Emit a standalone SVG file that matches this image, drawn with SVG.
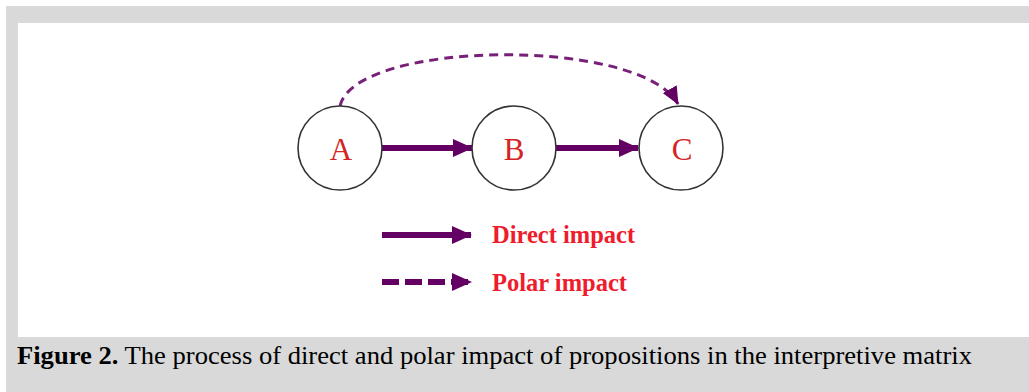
<svg xmlns="http://www.w3.org/2000/svg" width="1029" height="392" viewBox="0 0 1029 392">
  <style>
    .node circle { fill: #ffffff; stroke: #333333; stroke-width: 1.6; }
    .node text { font-family: "Liberation Serif", "Times New Roman", serif; font-size: 31px; fill: #d42424; text-anchor: middle; }
    .solid { stroke: #640064; stroke-width: 6; fill: none; }
    .dashed { stroke: #782078; stroke-width: 3; fill: none; stroke-dasharray: 9 6; }
    .legdash { stroke: #640064; stroke-width: 6; fill: none; stroke-dasharray: 17 6; }
    .leg { font-family: "Liberation Serif", "Times New Roman", serif; font-size: 24.5px; font-weight: bold; fill: #ee1c2c; }
    .cap { font-family: "Liberation Serif", "Times New Roman", serif; font-size: 25px; fill: #000000; }
  </style>
  <defs>
    <marker id="headSolid" markerUnits="userSpaceOnUse" markerWidth="20" markerHeight="18" refX="19" refY="9" orient="auto">
      <path d="M0,0 L20,9 L0,18 Z" fill="#640064"/>
    </marker>
    <marker id="headDash" markerUnits="userSpaceOnUse" markerWidth="18" markerHeight="16" refX="17" refY="8" orient="auto">
      <path d="M0,0 L18,8 L0,16 Z" fill="#640064"/>
    </marker>
  </defs>
  <rect x="0" y="0" width="1029" height="392" fill="#ffffff"/>
  <rect x="6" y="6" width="1023" height="386" fill="#d9d9d9"/>
  <rect x="18" y="23" width="1011" height="314" fill="#ffffff"/>

  <g id="connectors">
    <line class="solid" x1="382" y1="148" x2="472" y2="148" marker-end="url(#headSolid)"/>
    <line class="solid" x1="556" y1="148" x2="638" y2="148" marker-end="url(#headSolid)"/>
    <path class="dashed" d="M340,106 C355,40 640,36 678,104" marker-end="url(#headDash)"/>
  </g>

  <g id="node-A" class="node">
    <circle cx="340" cy="148" r="42"/>
    <text x="341" y="160">A</text>
  </g>
  <g id="node-B" class="node">
    <circle cx="514" cy="148" r="42"/>
    <text x="514" y="160">B</text>
  </g>
  <g id="node-C" class="node">
    <circle cx="681" cy="148" r="42"/>
    <text x="682" y="160">C</text>
  </g>

  <g id="legend">
    <line class="solid" x1="382" y1="235" x2="471" y2="235" marker-end="url(#headSolid)"/>
    <text class="leg" x="492" y="243">Direct impact</text>
    <line class="legdash" x1="382" y1="282" x2="471" y2="282" marker-end="url(#headSolid)"/>
    <text class="leg" x="492" y="291">Polar impact</text>
  </g>

  <g id="caption">
    <text class="cap" x="17" y="364" textLength="955" lengthAdjust="spacingAndGlyphs"><tspan font-weight="bold">Figure 2.</tspan> The process of direct and polar impact of propositions in the interpretive matrix</text>
  </g>
</svg>
